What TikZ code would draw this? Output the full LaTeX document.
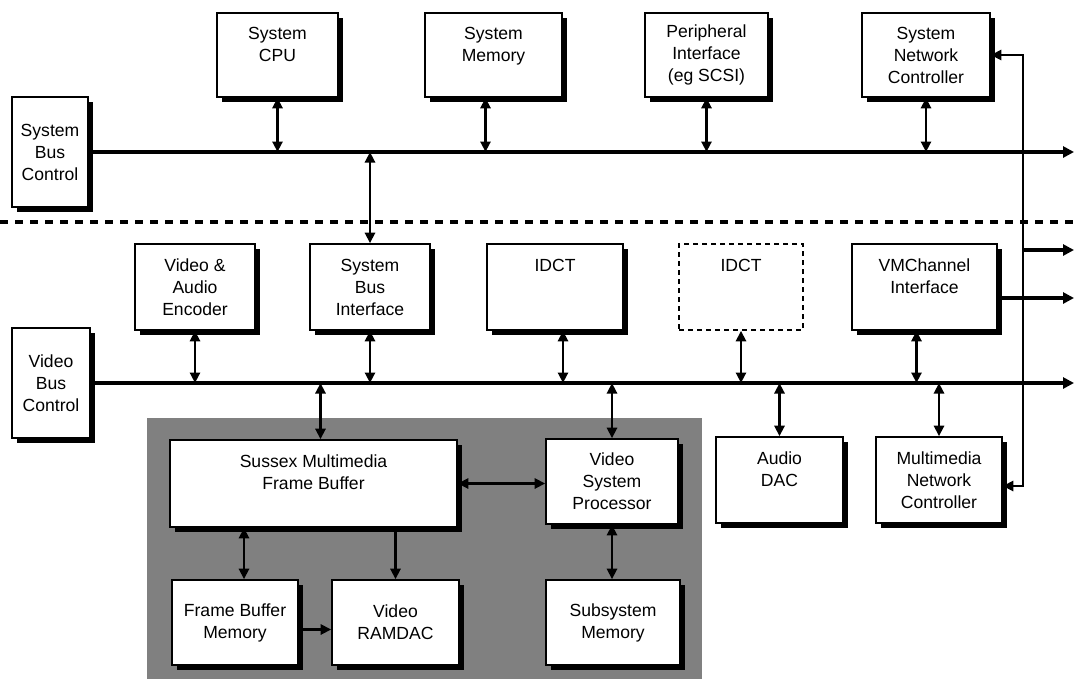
\documentclass[tikz,border=0pt]{standalone}
\usepackage{fontspec}
\setmainfont{Liberation Sans}
\usetikzlibrary{arrows.meta, shadows, calc}

\tikzset{
  blk/.style={draw, line width=0.9pt, fill=white, align=center, inner sep=1pt,
    font=\fontsize{10}{12.5}\selectfont,
    drop shadow={shadow xshift=1mm, shadow yshift=-1mm, fill=black, opacity=1}},
  ghost/.style={draw, line width=0.9pt, dash pattern=on 1mm off 0.8mm, align=center,
    inner sep=1pt, font=\fontsize{10}{12.5}\selectfont},
  bus/.style={line width=2.1pt, -{Triangle[length=2.2mm,width=2.2mm]}},
  dbl/.style={line width=1.6pt, {Triangle[length=2.1mm,width=2mm]}-{Triangle[length=2.1mm,width=2mm]}},
  sgl/.style={line width=1.6pt, -{Triangle[length=2.1mm,width=2mm]}},
}

\begin{document}
\begin{tikzpicture}[x=0.2mm, y=-0.2mm]
  \useasboundingbox (0,0) rectangle (1075,679);

  % Shaded frame buffer area
  \fill[black!50] (147,418) rectangle (702,679);

  % Bus ends
  \coordinate (sbusend) at (1074,152);
  \coordinate (vbusend) at (1074,383);
  \coordinate (out1) at (1074,250);
  \coordinate (out2) at (1074,298);
  \coordinate (rail) at (1023,250);

  % Divider
  \draw[line width=2pt, dash pattern=on 1.6mm off 1.4mm] (0,222) -- (1075,222);

  % System bus side
  \node[blk, minimum width=24.2mm, minimum height=16.8mm] (cpu) at (277.5,55) {System\\CPU\\~};
  \node[blk, minimum width=27.4mm, minimum height=16.8mm] (smem) at (493.5,55) {System\\Memory\\~};
  \node[blk, minimum width=24.6mm, minimum height=16.8mm] (periph) at (706.5,55) {Peripheral\\Interface\\(eg SCSI)};
  \node[blk, minimum width=25.6mm, minimum height=16.8mm] (snc) at (926,55) {System\\Network\\Controller};
  \node[blk, minimum width=15.2mm, minimum height=22mm] (sbc) at (50,152) {System\\Bus\\Control};

  % Video bus side
  \node[blk, minimum width=24mm, minimum height=17.2mm] (enc) at (195,287) {Video \&\\Audio\\Encoder};
  \node[blk, minimum width=24mm, minimum height=17.2mm] (sbi) at (370,287) {System\\Bus\\Interface};
  \node[blk, minimum width=27.2mm, minimum height=17.2mm] (idct) at (555,287) {IDCT\\~\\~};
  \node[ghost, minimum width=24.8mm, minimum height=17.2mm] (idctopt) at (741,287) {IDCT\\~\\~};
  \node[blk, minimum width=29mm, minimum height=17.2mm] (vmc) at (924.5,287) {VMChannel\\Interface\\~};
  \node[blk, minimum width=15.6mm, minimum height=22mm] (vbc) at (51,383) {Video\\Bus\\Control};

  % Frame buffer subsystem
  \node[blk, minimum width=57.4mm, minimum height=17.4mm] (fb) at (313.5,483.5) {Sussex Multimedia\\Frame Buffer\\~};
  \node[blk, minimum width=26.4mm, minimum height=17mm] (vsp) at (612,481.5) {Video\\System\\Processor};
  \node[blk, minimum width=25.2mm, minimum height=17mm] (fbm) at (235,622.5) {Frame Buffer\\Memory};
  \node[blk, minimum width=25.4mm, minimum height=17mm] (ramdac) at (395.5,622.5) {Video\\RAMDAC};
  \node[blk, minimum width=26.8mm, minimum height=17mm] (ssm) at (613,622.5) {Subsystem\\Memory};
  \node[blk, minimum width=25.4mm, minimum height=17.2mm] (dac) at (779.5,480) {Audio\\DAC\\~};
  \node[blk, minimum width=25.2mm, minimum height=17.2mm] (mnc) at (939,480) {Multimedia\\Network\\Controller};

  % Buses
  \draw[bus] (sbc.east) -- (sbusend);
  \draw[bus] (vbc.east) -- (vbusend);

  % System bus taps
  \draw[dbl] (cpu.south) -- (cpu.south |- sbusend);
  \draw[dbl] ([xshift=-1.6mm]smem.south) -- ([xshift=-1.6mm]smem.south |- sbusend);
  \draw[dbl] (periph.south) -- (periph.south |- sbusend);
  \draw[dbl] (snc.south) -- (snc.south |- sbusend);
  \draw[dbl] (sbi.north |- sbusend) -- (sbi.north);

  % Video bus taps
  \draw[dbl] (enc.south) -- (enc.south |- vbusend);
  \draw[dbl] (sbi.south) -- (sbi.south |- vbusend);
  \draw[dbl] ([xshift=1.6mm]idct.south) -- ([xshift=1.6mm]idct.south |- vbusend);
  \draw[dbl] (idctopt.south) -- (idctopt.south |- vbusend);
  \draw[dbl] ([xshift=-1.6mm]vmc.south) -- ([xshift=-1.6mm]vmc.south |- vbusend);
  \draw[dbl] ([xshift=1.4mm]fb.north |- vbusend) -- ([xshift=1.4mm]fb.north);
  \draw[dbl] (vsp.north |- vbusend) -- (vsp.north);
  \draw[dbl] (dac.north |- vbusend) -- (dac.north);
  \draw[dbl] (mnc.north |- vbusend) -- (mnc.north);

  % Inside the frame buffer
  \draw[dbl] (fb.east) -- (fb.east -| vsp.west);
  \draw[dbl] ([xshift=1.8mm]fb.south -| fbm.north) -- ([xshift=1.8mm]fbm.north);
  \draw[sgl] (ramdac.north |- fb.south) -- (ramdac.north);
  \draw[sgl] ([yshift=-1.4mm]fbm.east) -- ([yshift=-1.4mm]fbm.east -| ramdac.west);
  \draw[dbl] (vsp.south) -- (vsp.south |- ssm.north);

  % Network rail and outputs
  \draw[dbl] (snc.east) -| ([yshift=-1.2mm]rail |- mnc.east) -- ([yshift=-1.2mm]mnc.east);
  \draw[bus] (rail) -- (out1);
  \draw[bus] ([yshift=-2.2mm]vmc.east) -- (out2);
\end{tikzpicture}
\end{document}
